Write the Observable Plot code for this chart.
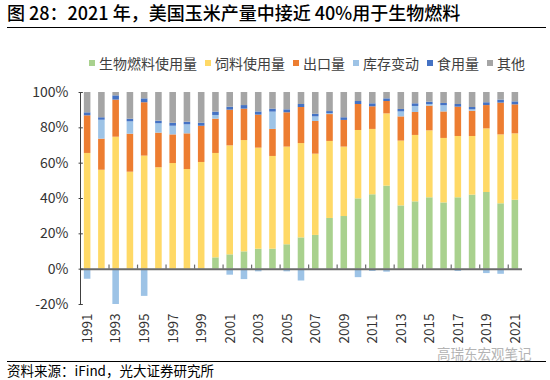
<!DOCTYPE html>
<html>
<head>
<meta charset="utf-8">
<script src="https://cdn.jsdelivr.net/npm/d3@7"></script>
<script src="https://cdn.jsdelivr.net/npm/@observablehq/plot@0.6"></script>
<style>
  body { margin: 0; width: 550px; height: 380px; position: relative; background: #fff; font-family: "Noto Sans CJK SC", sans-serif; color: #000; overflow: hidden; }
  .abs { position: absolute; }
  #legend { display: flex; align-items: center; font-size: 14px; line-height: 20px; color: #404040; }
  #legend .item { display: flex; align-items: center; margin-right: 8px; }
  #legend .sw { width: 6px; height: 6px; margin-right: 4px; }
  #chart svg g[aria-label="x-axis tick label"] { font-size: 13.5px; }
</style>
</head>
<body>
<div class="abs" style="left:7px;top:0px;font-size:18px;line-height:25px;font-weight:500;white-space:nowrap;">图 28：2021 年，美国玉米产量中接近 40%用于生物燃料</div>
<div class="abs" style="left:7px;top:27px;width:539px;height:0;border-top:1.5px solid #000;"></div>
<div id="legend" class="abs" style="left:89px;top:53px;"></div>
<div id="chart" class="abs" style="left:0;top:70px;"></div>
<div class="abs" style="left:437px;top:345px;font-size:13.5px;line-height:16px;color:#b4b4b4;white-space:nowrap;">高瑞东宏观笔记</div>
<div class="abs" style="left:7px;top:361px;width:539px;height:0;border-top:1.5px solid #000;"></div>
<div class="abs" style="left:7px;top:362px;font-size:13.5px;line-height:16px;white-space:nowrap;">资料来源：iFind，光大证券研究所</div>
<script>
const years = [1991,1992,1993,1994,1995,1996,1997,1998,1999,2000,2001,2002,2003,2004,2005,2006,2007,2008,2009,2010,2011,2012,2013,2014,2015,2016,2017,2018,2019,2020,2021];
const seriesNames = ["生物燃料使用量","饲料使用量","出口量","库存变动","食用量","其他"];
const seriesColors = ["#A9D18E","#FFD966","#ED7D31","#9DC3E6","#4472C4","#A5A5A5"];

const biofuel = [0,0,0,0,0,0,0,0,0,6.4,8.1,9.8,11.3,11.3,13.8,17.7,19.1,28.7,29.8,39.8,42.1,47,35.8,38.1,40.4,37.5,40.4,41.9,43.4,37,39];
const feed    = [65.5,56,74.7,54.9,64,57.4,59.8,56.4,60.4,59.1,61.7,63,57.2,52.5,55.3,53.4,46,43.6,39.3,38.7,37,40.9,36.7,37.6,37.9,36.5,34.7,33.2,36,39,37.6];
const exportV = [21.3,17.6,21,21.5,30.2,19.6,16.2,20.2,20.5,19.4,20.2,17.8,18.7,15.3,19.4,20.4,18.5,15.2,15.1,14.7,12.8,7,13.7,13,14,15,16.6,14.3,13.2,18,16.4];
const stock   = [-5.7,10.7,-20,7,-15.4,5.3,4.9,5.1,-0.6,2.1,-3.4,-5.9,-1.5,9.8,-1.5,-6.7,2.6,0.5,0,-4.8,-1.3,-1.7,2.8,3.4,0.9,3.5,-1.3,0.8,-2.5,-2.9,0];
const food    = [1.7,1.4,2.4,1.5,2.2,1.5,1.7,1.5,1.7,1.9,1.7,2,1.8,1.7,1.7,1.7,1.5,1.2,1.5,1.7,1.7,1.5,1.4,1.5,1.3,1.3,1.5,1.3,1.6,1.7,1.7];
const other   = [11.5,14.3,1.9,15.1,3.6,16.2,17.4,16.8,17.4,11.1,8.3,7.4,11,9.4,9.8,6.8,12.3,10.8,14.3,5.1,6.4,3.6,9.6,6.4,5.5,6.2,6.8,8.5,5.8,4.3,5.3];

const yTicks = [-20,0,20,40,60,80,100];
const xTickYears = [1991,1993,1995,1997,1999,2001,2003,2005,2007,2009,2011,2013,2015,2017,2019,2021];
const zeroTicks = [1992.5,1994.5,1996.5,1998.5,2000.5,2002.5,2004.5,2006.5,2008.5,2010.5,2012.5,2014.5,2016.5,2018.5,2020.5];
const xDomain = [1990.5, 2021.5];
const halfBar = 0.23;

const seriesValues = [biofuel, feed, exportV, stock, food, other];
const rows = years.flatMap((yr, i) => seriesValues.map((arr, k) => ({year: yr, series: seriesNames[k], value: arr[i]})));

// legend
const lg = document.getElementById("legend");
seriesNames.forEach((n, i) => {
  const it = document.createElement("div"); it.className = "item";
  const sw = document.createElement("div"); sw.className = "sw"; sw.style.background = seriesColors[i];
  const tx = document.createElement("span"); tx.textContent = n;
  it.appendChild(sw); it.appendChild(tx); lg.appendChild(it);
});

const plot = Plot.plot({
  width: 550,
  height: 290,
  marginTop: 22,
  marginBottom: 56,
  marginLeft: 80,
  marginRight: 28,
  style: {fontFamily: "'Noto Sans CJK SC', sans-serif", fontSize: "14px", color: "#333", background: "transparent"},
  x: {type: "linear", domain: xDomain, ticks: xTickYears, tickFormat: d => String(d), tickRotate: -90, tickSize: 0, tickPadding: 9, label: null},
  y: {domain: [-20, 100], ticks: yTicks, tickFormat: d => d + "%", tickSize: 0, tickPadding: 12, label: null},
  color: {domain: seriesNames, range: seriesColors},
  marks: [
    Plot.rectY(rows, Plot.stackY({x: "year", y: "value", z: "series", order: seriesNames, fill: "series",
      x1: d => d.year - halfBar, x2: d => d.year + halfBar})),
    Plot.ruleY([0], {stroke: "#6b6b6b", strokeWidth: 2}),
    Plot.ruleX(zeroTicks, {x: d => d, y1: 0, y2: 2.3, stroke: "#6b6b6b", strokeWidth: 1.2}),
    Plot.ruleY(yTicks, {y: d => d, x1: xDomain[0] - 0.1, x2: xDomain[0] + 0.2, stroke: "#404040", strokeWidth: 1}),
    Plot.ruleX([xDomain[0]], {y1: -20, y2: 100, stroke: "#404040", strokeWidth: 1})
  ]
});
document.getElementById("chart").appendChild(plot);
</script>
</body>
</html>
